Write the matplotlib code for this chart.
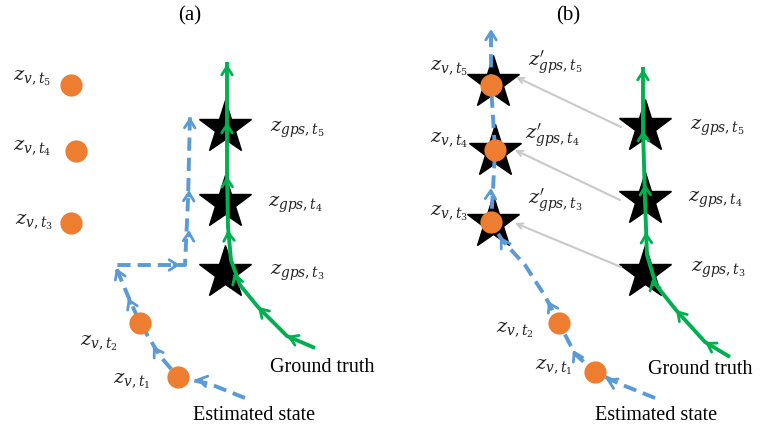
import numpy as np
import matplotlib.pyplot as plt

plt.rcParams['font.family'] = 'Liberation Serif'
plt.rcParams['mathtext.fontset'] = 'dejavuserif'

blue = '#5B9BD5'
green = '#00B050'
orange = '#ED7D31'
gray = '#C9C9C9'

# ---- panel (a) ----
a_est_path = [(245, 398), (210, 384), (178, 377), (160, 356), (140, 323), (128, 296), (115, 265),
              (185, 265), (188, 200), (190, 115)]
a_est_arrows = [(196, 379), (153, 346), (128, 298), (116, 268), (180, 265), (189, 230), (189, 190), (190, 117)]
a_gt_path = [(315, 348), (287, 336), (258, 307), (240, 285), (231, 260), (228, 227), (227, 173), (227, 62)]
a_gt_arrows = [(287, 336), (258, 307), (234, 273), (228, 230), (227, 176), (227, 122), (227, 64)]
a_zv = [(178, 377), (140, 323), (71, 223), (76, 151), (71, 85)]
a_zv_lbl = [(113, 381), (80, 343), (15, 222), (13, 148), (13, 78)]
a_gps = [(225, 273), (225, 203), (225, 128)]
a_gps_lbl = [(270, 273), (268, 205), (270, 130)]

# ---- panel (b) ----
b_est_path = [(655, 398), (620, 384), (595, 372), (575, 354), (559, 323), (545, 296), (525, 265),
              (502, 240), (491, 222), (493, 190), (495, 150), (491, 85), (491, 27)]
b_est_arrows = [(606, 379), (573, 350), (548, 301), (500, 237), (491, 188), (491, 29)]
b_gt_path = [(730, 357), (705, 342), (676, 310), (656, 285), (647, 255), (645, 200), (643, 128), (643, 67)]
b_gt_arrows = [(705, 342), (676, 310), (652, 279), (646, 232), (645, 184), (643, 130), (643, 69)]
b_zv = [(595, 372), (559, 323), (491, 222), (495, 150), (491, 85)]
b_zv_lbl = [(535, 367), (496, 330), (430, 213), (430, 140), (430, 68)]
b_gps_l = [(493, 223), (495, 152), (493, 83)]
b_gps_r = [(645, 273), (645, 200), (645, 127)]
b_gps_r_lbl = [(691, 270), (688, 200), (690, 128)]
b_gps_l_lbl = [(528, 200), (525, 135), (528, 62)]
b_links = [((621, 267), (515, 223)), ((620, 200), (515, 150)), ((621, 127), (516, 77))]

ts = [1, 2, 3, 4, 5]

fig = plt.figure(figsize=(7.66, 4.34), dpi=100)
ax = fig.add_axes([0, 0, 1, 1])
ax.set_xlim(0, 766)
ax.set_ylim(434, 0)
ax.axis('off')


def path(pts, color, dashed, z):
    xs, ys = zip(*pts)
    ls = (0, (3.4, 1.8)) if dashed else '-'
    ax.plot(xs, ys, color=color, lw=2.8, ls=ls, zorder=z, solid_capstyle='butt', dash_capstyle='butt')


def heads(path_pts, arrows, color, z):
    p = np.array(path_pts, float)
    for x, y in arrows:
        # direction of the nearest segment
        best = None
        for k in range(1, len(p)):
            a, b = p[k - 1], p[k]
            ab = b - a
            t = np.clip(np.dot([x - a[0], y - a[1]], ab) / np.dot(ab, ab), 0, 1)
            q = a + t * ab
            dd = np.hypot(q[0] - x, q[1] - y)
            if best is None or dd < best[0]:
                best = (dd, ab)
        v = best[1] / np.hypot(*best[1])
        ax.annotate('', xy=(x, y), xytext=(x - v[0] * 6, y - v[1] * 6),
                    arrowprops=dict(arrowstyle='->,head_length=0.6,head_width=0.38', color=color,
                                    lw=2.0, shrinkA=0, shrinkB=0), zorder=z)


def zlabel(x, y, s):
    ax.text(x, y, s, fontsize=14, ha='left', va='center', color='#222222')


# panel (a)
for x, y in a_gps:
    ax.plot(x, y, marker='*', ms=40, color='black', zorder=2)
path(a_est_path, blue, True, 3)
heads(a_est_path, a_est_arrows, blue, 3)
path(a_gt_path, green, False, 4)
heads(a_gt_path, a_gt_arrows, green, 4)
for (x, y) in a_zv:
    ax.plot(x, y, 'o', ms=16, color=orange, mec='none', zorder=5)
for t, (x, y) in zip(ts, a_zv_lbl):
    zlabel(x, y, r'$z_{v,t_%d}$' % t)
for t, (x, y) in zip(ts[2:], a_gps_lbl):
    zlabel(x, y, r'$z_{gps,t_%d}$' % t)
ax.text(190, 16, '(a)', fontsize=15, ha='center', va='center')
ax.text(270, 368, 'Ground truth', fontsize=14.5, ha='left', va='center')
ax.text(193, 416, 'Estimated state', fontsize=14.5, ha='left', va='center')

# panel (b)
for x, y in b_gps_l + b_gps_r:
    ax.plot(x, y, marker='*', ms=40, color='black', zorder=2)
for (x0, y0), (x1, y1) in b_links:
    ax.annotate('', xy=(x1, y1), xytext=(x0, y0),
                arrowprops=dict(arrowstyle='->,head_length=0.4,head_width=0.2', color=gray,
                                lw=1.5, shrinkA=0, shrinkB=0), zorder=2.5)
path(b_est_path, blue, True, 3)
heads(b_est_path, b_est_arrows, blue, 3)
path(b_gt_path, green, False, 4)
heads(b_gt_path, b_gt_arrows, green, 4)
for (x, y) in b_zv:
    ax.plot(x, y, 'o', ms=16, color=orange, mec='none', zorder=5)
for t, (x, y) in zip(ts, b_zv_lbl):
    zlabel(x, y, r'$z_{v,t_%d}$' % t)
for t, (x, y) in zip(ts[2:], b_gps_r_lbl):
    zlabel(x, y, r'$z_{gps,t_%d}$' % t)
for t, (x, y) in zip(ts[2:], b_gps_l_lbl):
    zlabel(x, y, r'$z^{\prime}_{gps,t_%d}$' % t)
ax.text(568, 16, '(b)', fontsize=15, ha='center', va='center')
ax.text(648, 370, 'Ground truth', fontsize=14.5, ha='left', va='center')
ax.text(595, 416, 'Estimated state', fontsize=14.5, ha='left', va='center')

fig.savefig('out.png', dpi=100)
